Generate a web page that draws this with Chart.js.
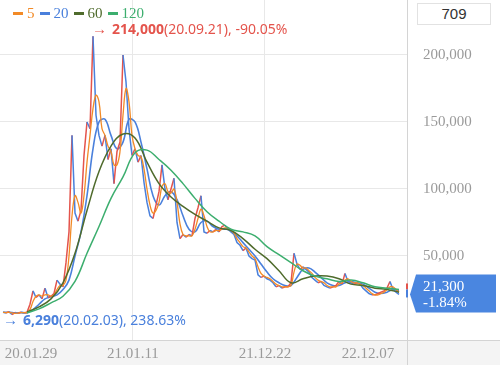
<!DOCTYPE html>
<html>
<head>
<meta charset="utf-8">
<script src="https://cdn.jsdelivr.net/npm/chart.js@4.4.1/dist/chart.umd.min.js"></script>
<style>
  body { margin: 0; background: #fff; }
  #wrap { position: relative; width: 500px; height: 365px; }
  #legend { position: absolute; left: 13px; top: 4px; height: 18px; font: 15px "Liberation Serif", serif; display: flex; align-items: center; }
  #legend .dash { display: inline-block; width: 10px; height: 3px; margin-right: 4px; }
  #legend .lab { margin-right: 5px; }
  #count { position: absolute; left: 417px; top: 3px; width: 72px; height: 20px; border: 1px solid #e2e2e2; background: #fff;
           font: 15px "Liberation Sans", Arial, sans-serif; color: #333; text-align: center; line-height: 20px; }
</style>
</head>
<body>
<div id="wrap">
  <canvas id="chart" width="500" height="365"></canvas>
  <div id="legend"></div>
  <div id="count">709</div>
</div>
<script>
// ---------- DATA (prices in 1,000 KRW, one point per ~5 trading days) ----------
const price = [
  8, 7.5, 8.5, 6.3, 7.8, 7.2, 8.2, 7.6, 8, 14,
  24, 19, 21, 18, 26, 19, 20, 22, 32, 29,
  27, 45, 68, 140, 82, 76, 84, 125, 150, 145,
  214, 155, 140, 132, 140, 122, 130, 104, 128, 135,
  200, 180, 145, 125, 130, 120, 125, 105, 90, 80,
  78, 88, 98, 118, 100, 92, 100, 108, 75, 63,
  66, 64, 66, 65, 78, 86, 95, 68, 67, 69,
  68, 70, 68, 72, 73, 70, 68, 66, 60, 58,
  54, 56, 50, 48, 47, 36, 34, 35, 33, 32,
  30, 27, 28, 26, 27, 27, 30, 52, 44, 40,
  42, 40, 38, 34, 32, 30, 31, 28, 27, 26,
  27, 28, 31, 29, 37, 31, 30, 29, 30, 29,
  26, 24, 22, 21, 21, 22, 23, 24, 26, 31,
  25, 23, 21.3
];
const ma5 = [
  8, 7.8, 8, 7.5, 7.2, 7.4, 7.7, 7.8, 7.8, 10,
  16, 20, 21, 20, 21, 21, 20, 21, 25, 28,
  28, 32, 50, 80, 95, 90, 82, 95, 120, 140,
  160, 170, 165, 145, 140, 132, 128, 118, 118, 128,
  155, 175, 165, 140, 130, 125, 124, 115, 100, 88,
  82, 84, 90, 102, 104, 98, 97, 100, 90, 74,
  66, 65, 65, 65, 70, 78, 85, 80, 72, 68,
  68, 69, 69, 70, 71, 71, 69, 67, 63, 60,
  57, 56, 53, 50, 48, 42, 37, 35, 34, 33,
  31, 29, 28, 27, 27, 27, 28, 38, 44, 43,
  41, 41, 39, 37, 34, 32, 31, 30, 28, 27,
  27, 27, 29, 30, 32, 33, 31, 30, 30, 29,
  28, 26, 24, 22, 21, 21, 22, 23, 25, 27,
  27, 25, 23
];
// every 2nd point
const ma20 = [
  8, 8, 7.6, 7.6, 7.7, 10, 14, 18, 19.5, 21,
  25, 32, 50, 68, 95, 130, 150, 152, 140, 130,
  135, 152, 150, 135, 115, 95, 88, 95, 98, 92,
  80, 70, 68, 75, 76, 72, 70, 70, 69, 65,
  60, 55, 50, 44, 38, 33, 30, 28, 28, 34,
  40, 41, 38, 34, 30, 28, 28, 30, 31, 30,
  29, 26, 23, 22, 23, 25, 24
];
// every 4th point, from point 8
const ma60 = [
  8.2, 12, 18, 30, 52, 84, 113, 132, 141, 138,
  120, 104, 94, 87, 81, 76, 71, 69, 63, 55,
  48, 39, 30, 33, 35, 35, 33, 29, 28, 26,
  25, 23
];
const ma120 = [
  7.5, 10.5, 15, 20, 31, 52, 72, 93, 109, 127,
  129, 122, 114, 104, 93, 83, 76, 70, 68, 65,
  57, 51, 45, 39, 35, 33, 31, 32, 30, 27,
  26, 25
];
const seriesNames = ['5', '20', '60', '120'];
const tickDates = ['20.01.29', '21.01.11', '21.12.22', '22.12.07'];
const tickIdx = [9.3, 43.3, 87.3, 121.7];
const yTicks = [50, 100, 150, 200];
const highNote = ['214,000', '(20.09.21), -90.05%'];
const lowNote = ['6,290', '(20.02.03), 238.63%'];
const lastChange = '-1.84%';

// ---------- STYLE ----------
const RED = '#e4544c', BLUE = '#4a80dc', ORANGE = '#f28a26', OLIVE = '#4f6b2c', GREEN = '#3cae6e';
const maColors = [ORANGE, BLUE, OLIVE, GREEN];
const SERIF = '"Liberation Serif", "Times New Roman", serif';
const SANS = '"Noto Sans", "Liberation Sans", sans-serif';

const pts = (arr, start, step) => arr.map((v, i) => ({ x: start + i * step, y: v }));

// legend
const legend = document.getElementById('legend');
seriesNames.forEach((n, i) => {
  legend.insertAdjacentHTML('beforeend',
    `<span class="dash" style="background:${maColors[i]}"></span><span class="lab" style="color:${maColors[i]}">${n}</span>`);
});

const fmt = v => Math.round(v * 1000).toLocaleString('en-US');

const decor = {
  id: 'decor',
  beforeDraw(chart) {
    const { ctx, chartArea: a } = chart;
    ctx.save();
    ctx.fillStyle = '#fff';
    ctx.fillRect(0, 0, chart.width, chart.height);
    ctx.fillStyle = '#f4f4f4';
    ctx.fillRect(0, a.bottom, chart.width, chart.height - a.bottom);
    ctx.restore();
  },
  afterDraw(chart) {
    const { ctx, chartArea: a, scales: { x, y } } = chart;
    ctx.save();
    ctx.strokeStyle = '#d4d4d4';
    ctx.lineWidth = 1;
    ctx.beginPath();
    ctx.moveTo(0, a.bottom + 0.5); ctx.lineTo(chart.width, a.bottom + 0.5);
    ctx.moveTo(a.right + 0.5, 0); ctx.lineTo(a.right + 0.5, chart.height);
    ctx.stroke();

    // high / low notes
    const hi = price.indexOf(Math.max(...price));
    const lo = price.indexOf(Math.min(...price));
    const note = (px, py, color, parts) => {
      ctx.fillStyle = color;
      ctx.textBaseline = 'middle';
      ctx.textAlign = 'left';
      ctx.font = '15px ' + SANS;
      ctx.fillText('→', px, py);
      ctx.font = 'bold 14px ' + SANS;
      ctx.fillText(parts[0], px + 20, py);
      const w = ctx.measureText(parts[0]).width;
      ctx.font = '14px ' + SANS;
      ctx.fillText(parts[1], px + 20 + w, py);
    };
    note(x.getPixelForValue(hi) - 1, y.getPixelForValue(price[hi]) - 6, RED, highNote);
    note(a.left + 3, y.getPixelForValue(price[lo]) + 6, BLUE, lowNote);

    // last price tag
    const last = price[price.length - 1];
    const ly = y.getPixelForValue(last);
    const tx = a.right + 3;
    ctx.fillStyle = RED;
    ctx.fillRect(a.right - 1, ly - 11, 2, 6);
    ctx.fillStyle = BLUE;
    ctx.fillRect(a.right - 1, ly - 5, 2, 8);
    ctx.fillStyle = '#4a86e0';
    ctx.beginPath();
    ctx.moveTo(tx, ly);
    ctx.lineTo(tx + 6, ly - 20);
    ctx.lineTo(496, ly - 20);
    ctx.lineTo(496, ly + 18);
    ctx.lineTo(tx + 6, ly + 18);
    ctx.closePath();
    ctx.fill();
    ctx.fillStyle = '#fff';
    ctx.font = '15px ' + SERIF;
    ctx.fillText(fmt(last), 423, ly - 7);
    ctx.fillText(lastChange, 423, ly + 9);
    ctx.restore();
  }
};

const maLine = (data, color, width) => ({
  data, borderColor: color, borderWidth: width, pointRadius: 0, tension: 0.4, fill: false
});

new Chart(document.getElementById('chart'), {
  type: 'line',
  data: {
    datasets: [
      maLine(pts(ma120, 8, 4), GREEN, 1.5),
      maLine(pts(ma60, 8, 4), OLIVE, 1.5),
      maLine(pts(ma5, 0, 1), ORANGE, 1.3),
      {
        data: pts(price, 0, 1), borderWidth: 1.5, pointRadius: 0, tension: 0,
        borderColor: RED,
        segment: { borderColor: c => c.p1.parsed.y >= c.p0.parsed.y ? RED : BLUE }
      },
      maLine(pts(ma20, 0, 2), BLUE, 1.6)
    ]
  },
  options: {
    responsive: false,
    animation: false,
    devicePixelRatio: 1,
    layout: { padding: 0, autoPadding: false },
    plugins: { legend: { display: false }, tooltip: { enabled: false } },
    scales: {
      x: {
        type: 'linear', min: -1, max: 134.67,
        afterBuildTicks: s => { s.ticks = tickIdx.map(v => ({ value: v })); },
        afterFit: s => { s.height = 25; s.paddingLeft = 0; s.paddingRight = 0; },
        ticks: {
          autoSkip: false, maxRotation: 0, padding: 5, color: '#9a9a9a',
          font: { family: SERIF, size: 15 },
          callback: (v, i) => tickDates[i]
        },
        grid: {
          drawTicks: false,
          color: c => (c.index === 1 || c.index === 2) ? '#e8e8e8' : 'rgba(0,0,0,0)'
        },
        border: { display: false }
      },
      y: {
        position: 'right', min: -12.69, max: 241.04, bounds: 'data',
        afterBuildTicks: s => { s.ticks = yTicks.map(v => ({ value: v })); },
        afterFit: s => { s.width = 93; s.paddingTop = 0; s.paddingBottom = 0; },
        ticks: {
          padding: 16, color: '#9a9a9a',
          font: { family: SERIF, size: 15 },
          callback: v => fmt(v)
        },
        grid: { drawTicks: false, color: '#e8e8e8' },
        border: { display: false }
      }
    }
  },
  plugins: [decor]
});
</script>
</body>
</html>
